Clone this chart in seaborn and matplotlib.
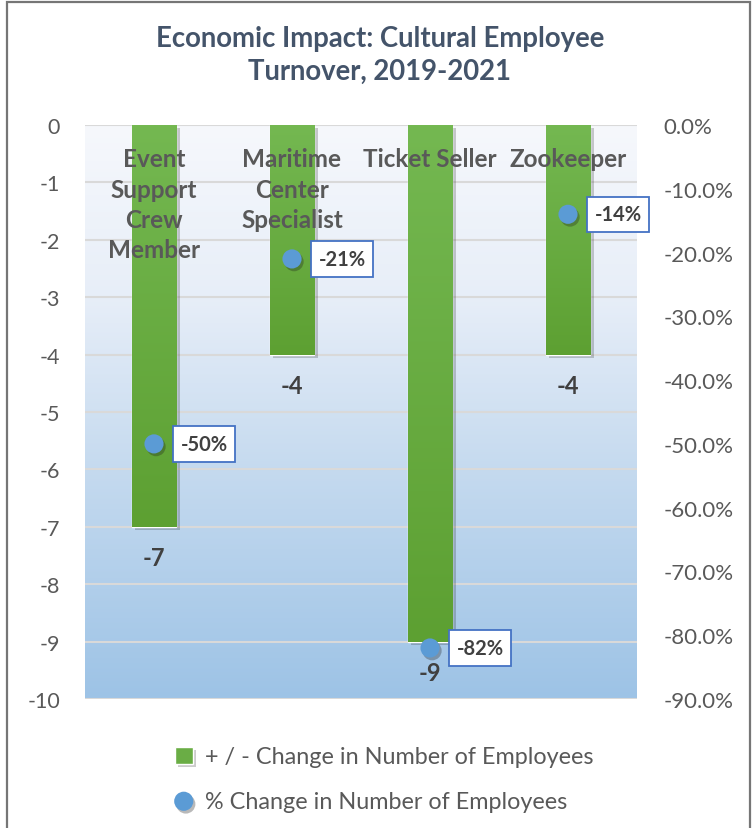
import numpy as np
import pandas as pd
import matplotlib
matplotlib.use("Agg")
import matplotlib.pyplot as plt
import seaborn as sns
from matplotlib.colors import LinearSegmentedColormap
from matplotlib import patheffects as pe
from matplotlib.patches import Rectangle
from matplotlib.ticker import PercentFormatter

# ---- data ----
categories = ["Event\nSupport\nCrew\nMember", "Maritime\nCenter\nSpecialist",
              "Ticket Seller", "Zookeeper"]
change_count = [-7, -4, -9, -4]
change_pct = [-0.50, -0.21, -0.82, -0.14]
left_ticks = [0, -1, -2, -3, -4, -5, -6, -7, -8, -9, -10]
right_ticks = [0.0, -0.1, -0.2, -0.3, -0.4, -0.5, -0.6, -0.7, -0.8, -0.9]
title = "Economic Impact: Cultural Employee\nTurnover, 2019-2021"
bar_label_name = "+ / - Change in Number of Employees"
dot_label_name = "% Change in Number of Employees"

sns.set_theme(style="white")
plt.rcParams["font.family"] = ["Lato", "DejaVu Sans"]
plt.rcParams["axes.unicode_minus"] = False

df = pd.DataFrame({"category": categories, "count": change_count, "pct": change_pct})

W, H = 754, 829
fig = plt.figure(figsize=(W / 100, H / 100), dpi=100)
fig.patch.set_facecolor("white")
ax = fig.add_axes([85 / W, 1 - 700 / H, 552 / W, 574 / H])

# background gradient
bg_cmap = LinearSegmentedColormap.from_list(
    "bg", [(0.0, "#f6f8fc"), (0.3, "#e7eef8"), (0.6, "#c5daef"), (1.0, "#9dc3e6")])
grad = np.linspace(0, 1, 256).reshape(-1, 1)
ax.imshow(grad, cmap=bg_cmap, extent=(0, 1, 0, 1), transform=ax.transAxes,
          aspect="auto", origin="upper", zorder=0)

sns.barplot(data=df, x="category", y="count", color="#6aad45", width=0.32,
            ax=ax, label=bar_label_name, zorder=3, saturation=1)

bar_cmap = LinearSegmentedColormap.from_list("bar", ["#74b851", "#5da032"])
for patch in ax.patches:
    patch.set_path_effects([pe.SimplePatchShadow(offset=(2.5, -2.5), shadow_rgbFace="k", alpha=0.22),
                            pe.Normal()])
    bb = patch.get_bbox()
    im = ax.imshow(grad, cmap=bar_cmap, extent=(bb.x0, bb.x1, bb.y0, bb.y1),
                   aspect="auto", origin="upper" if bb.y1 > bb.y0 else "lower", zorder=3.5)
    im.set_clip_path(patch)

# value labels under bar ends
for i, v in enumerate(change_count):
    ax.annotate(str(v), xy=(i, v), xytext=(0, -22), textcoords="offset points",
                ha="center", va="center", fontsize=17, fontweight="bold",
                color="#404040", zorder=6, annotation_clip=False)

for i, cat in enumerate(categories):
    ax.text(i, -0.39, cat, ha="center", va="top", fontsize=17.5, fontweight="bold",
            color="#595959", linespacing=1.38, multialignment="center", zorder=6)

ax.set_xlim(-0.5, len(categories) - 0.5)
ax.set_ylim(-10, 0)
ax.set_yticks(left_ticks)
ax.yaxis.grid(True, color="#d9d9d9", lw=1.5)
ax.set_axisbelow(True)
ax.tick_params(axis="x", labelbottom=False, length=0)
ax.tick_params(axis="y", length=0, pad=18, labelsize=15.5, labelcolor="#595959")
ax.set_xlabel("")
ax.set_ylabel("")
for s in ax.spines.values():
    s.set_visible(False)

ax2 = ax.twinx()
sns.scatterplot(data=df, x="category", y="pct", ax=ax2, color="#5b9bd5", s=190,
                edgecolor="none", label=dot_label_name, zorder=5)
for coll in ax2.collections:
    coll.set_path_effects([pe.SimplePatchShadow(offset=(1.5, -2), shadow_rgbFace="k", alpha=0.3),
                           pe.Normal()])
for i, p in enumerate(change_pct):
    ax2.annotate(f"{p:.0%}", xy=(i, p), xytext=(19, 0), textcoords="offset points",
                 ha="left", va="center", fontsize=14.5, fontweight="bold", color="#404040",
                 bbox=dict(boxstyle="square,pad=0.38", fc="white", ec="#4472c4", lw=1.3),
                 zorder=7)
ax2.set_ylim(-0.9, 0)
ax2.set_yticks(right_ticks)
ax2.yaxis.set_major_formatter(PercentFormatter(1.0, decimals=1))
ax2.tick_params(axis="y", length=0, pad=19, labelsize=16, labelcolor="#595959")
ax2.set_ylabel("")
ax2.set_xlabel("")
ax2.grid(False)
for s in ax2.spines.values():
    s.set_visible(False)
ax.set_xlim(-0.5, len(categories) - 0.5)

h1, l1 = ax.get_legend_handles_labels()
h2, l2 = ax2.get_legend_handles_labels()
for a in (ax, ax2):
    if a.get_legend() is not None:
        a.get_legend().remove()
fig.legend(h1 + h2, l1 + l2, loc="center left", bbox_to_anchor=(175 / W, 1 - 780 / H),
           frameon=False, fontsize=16.8, labelcolor="#595959", handlelength=0.75,
           handleheight=0.75, handletextpad=0.55, labelspacing=1.0, borderpad=0,
           borderaxespad=0)

fig.text(380 / W, 1 - 55.5 / H, title, ha="center", va="center", fontsize=19.8,
         fontweight="bold", color="#44546a", linespacing=1.35)

fig.add_artist(Rectangle((7 / W, -0.05), 743 / W, 1.05 - 3 / H, fill=False,
                         ec="#767676", lw=1.6, transform=fig.transFigure, clip_on=False))

fig.savefig("out.png", dpi=100)
